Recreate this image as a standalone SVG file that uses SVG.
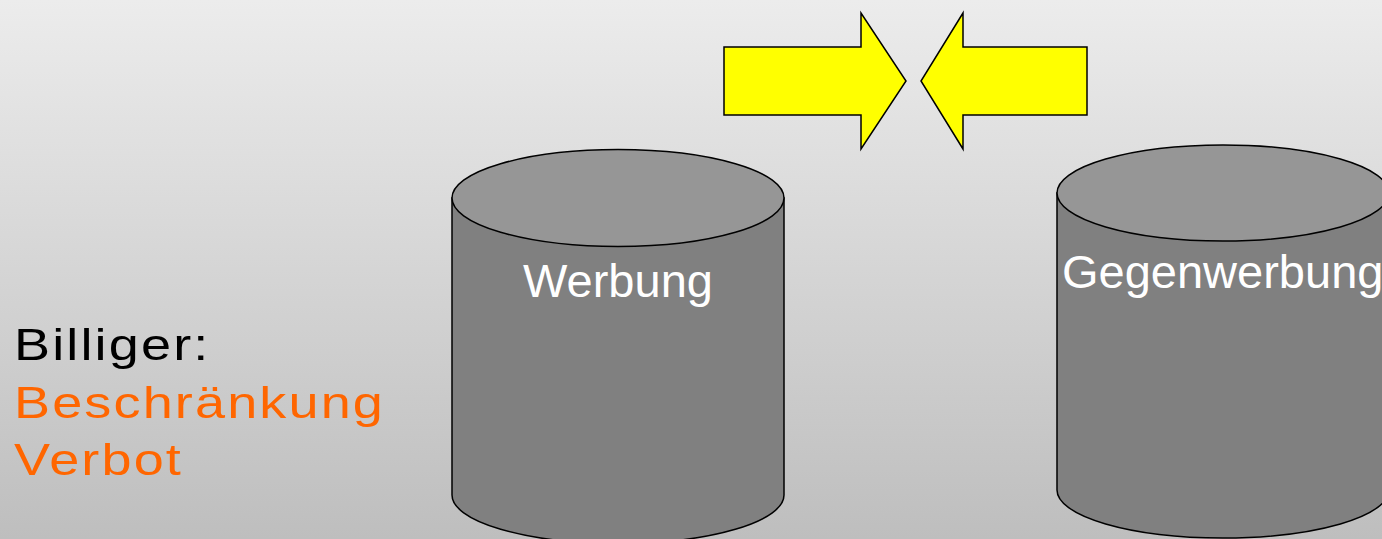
<svg xmlns="http://www.w3.org/2000/svg" width="1382" height="539" viewBox="0 0 1382 539">
  <defs>
    <linearGradient id="bg" x1="0" y1="0" x2="0" y2="1">
      <stop offset="0" stop-color="#ececec"/>
      <stop offset="1" stop-color="#bebebe"/>
    </linearGradient>
  </defs>
  <style>
    .side { fill: #808080; stroke: #000; stroke-width: 1.5; }
    .top { fill: #969696; stroke: #000; stroke-width: 1.5; }
    .arrow { fill: #ffff00; stroke: #000; stroke-width: 1.5; stroke-linejoin: miter; }
    .lbl { font-family: "Liberation Sans", Arial, sans-serif; font-size: 47px; fill: #ffffff; }
    .side-text { font-family: "Liberation Sans", Arial, sans-serif; font-size: 45px; letter-spacing: 1.8px; }
  </style>
  <rect x="0" y="0" width="1382" height="539" fill="url(#bg)"/>

  <g id="text-left" transform="translate(14,0) scale(1.2,1)">
    <text class="side-text" x="0" y="360" fill="#000000">Billiger:</text>
    <text class="side-text" x="0" y="418" fill="#ff6600">Beschränkung</text>
    <text class="side-text" x="0" y="475" fill="#ff6600">Verbot</text>
  </g>

  <g id="cyl-werbung">
    <path class="side" d="M452,198 L452,495 A166,48.5 0 0 0 784,495 L784,198 Z"/>
    <ellipse class="top" cx="618" cy="198" rx="166" ry="48.5"/>
    <text class="lbl" x="618" y="297" text-anchor="middle">Werbung</text>
  </g>

  <g id="cyl-gegenwerbung">
    <path class="side" d="M1057,193 L1057,490 A166,48 0 0 0 1389,490 L1389,193 Z"/>
    <ellipse class="top" cx="1223" cy="193" rx="166" ry="48"/>
    <text class="lbl" x="1062" y="288">Gegenwerbung</text>
  </g>

  <g id="connectors">
    <polygon id="arrow-right" class="arrow" points="724,47 861,47 861,13 906,81 861,149 861,115 724,115"/>
    <polygon id="arrow-left" class="arrow" points="1087,47 963,47 963,13 921,81 963,149 963,115 1087,115"/>
  </g>
</svg>
